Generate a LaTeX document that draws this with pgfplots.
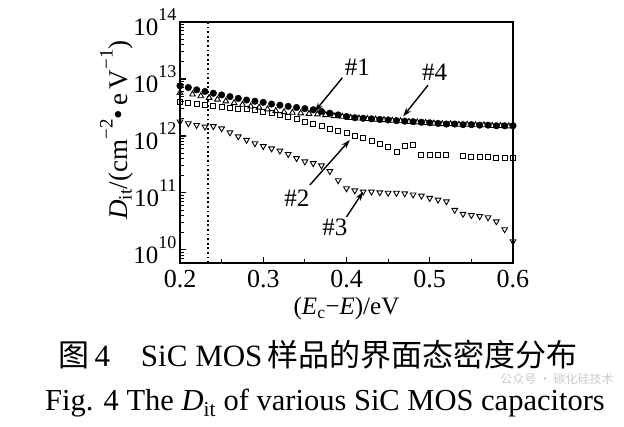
\documentclass[border=0pt]{standalone}
\usepackage{fontspec}
\setmainfont{Liberation Serif}
\newfontfamily\cjk{Noto Sans CJK SC}
\usepackage{pgfplots}
\pgfplotsset{compat=1.18}
\usetikzlibrary{arrows.meta}
\newcommand\tp[1]{10\raisebox{0.62em}{\fontsize{18}{18}\selectfont #1}}
\begin{document}
\begin{tikzpicture}
\useasboundingbox (0,0) rectangle (624pt,426pt);
\begin{axis}[
  at={(180pt,163pt)}, anchor=south west,
  scale only axis, width=333pt, height=241pt,
  xmin=0.2, xmax=0.6, ymode=log, ymin=5.9e9, ymax=1e14,
  axis line style={line width=1.7pt},
  tick align=inside, xtick pos=bottom, ytick pos=left,
  xtick={0.2,0.3,0.4,0.5,0.6}, minor x tick num=1,
  ytick={1e10,1e11,1e12,1e13,1e14},
  minor ytick={7e9,8e9,9e9,2e10,3e10,4e10,5e10,6e10,7e10,8e10,9e10,2e11,3e11,4e11,5e11,6e11,7e11,8e11,9e11,2e12,3e12,4e12,5e12,6e12,7e12,8e12,9e12,2e13,3e13,4e13,5e13,6e13,7e13,8e13,9e13},
  yticklabels={\tp{10},\tp{11},\tp{12},\tp{13},\tp{14}},
  major tick length=6pt, minor tick length=3.5pt,
  every tick/.style={line width=1.1pt, black},
  xticklabel style={font=\fontsize{26}{28}\selectfont, yshift=-4pt, /pgf/number format/.cd, fixed, fixed zerofill, precision=1, assume math mode=true},
  yticklabel style={font=\fontsize{25}{27}\selectfont},
  xlabel={(\textit{E}\textsubscript{c}−\textit{E})/eV},
  ylabel={\textit{D}\textsubscript{it}/(cm\raisebox{0.55em}{\fontsize{19}{19}\selectfont −2}•\,e\,V\raisebox{0.55em}{\fontsize{19}{19}\selectfont −1})},
  xlabel style={font=\fontsize{25}{27}\selectfont, at={(axis description cs:0.5,-0.19)}, anchor=center},
  ylabel style={font=\fontsize{27}{29}\selectfont, at={(axis description cs:-0.19,0.552)}, anchor=center},
  clip=false,
]
% dotted reference line
\addplot[black, line width=2.2pt, dash pattern=on 1.8pt off 2.8pt] coordinates {(0.234,5.9e9) (0.234,1e14)};
% #2 open squares
\addplot[only marks, mark=square, mark size=2.5pt, mark options={line width=0.9pt, black}] coordinates {
(0.20,3.98e12)(0.21,3.80e12)(0.22,3.63e12)(0.23,3.55e12)(0.24,3.39e12)(0.25,3.24e12)(0.26,3.16e12)(0.27,3.02e12)(0.28,2.95e12)(0.29,2.82e12)
(0.30,2.69e12)(0.31,2.51e12)(0.32,2.34e12)(0.33,2.14e12)(0.34,1.95e12)(0.35,1.78e12)(0.36,1.62e12)(0.37,1.48e12)(0.38,1.35e12)(0.39,1.23e12)
(0.40,1.12e12)(0.41,1.00e12)(0.42,9.12e11)(0.43,8.13e11)(0.44,7.24e11)(0.45,6.31e11)(0.46,5.25e11)(0.47,6.61e11)(0.48,6.92e11)(0.49,4.68e11)
(0.50,4.68e11)(0.51,4.68e11)(0.52,4.57e11)(0.54,4.47e11)(0.55,4.37e11)(0.56,4.27e11)(0.57,4.27e11)(0.58,4.17e11)(0.59,4.17e11)(0.60,4.07e11)};
% #3 open down-triangles
\addplot[only marks, mark=triangle, mark size=3.3pt, mark options={line width=0.9pt, black, rotate=180}] coordinates {
(0.20,1.78e12)(0.21,1.66e12)(0.22,1.55e12)(0.23,1.45e12)(0.24,1.48e12)(0.25,1.35e12)(0.26,1.15e12)(0.27,9.77e11)(0.28,8.51e11)(0.29,7.41e11)
(0.30,6.61e11)(0.31,6.03e11)(0.32,5.50e11)(0.33,4.79e11)(0.34,4.07e11)(0.35,3.55e11)(0.36,3.31e11)(0.37,3.02e11)(0.38,2.40e11)(0.39,1.66e11)
(0.40,1.20e11)(0.41,1.10e11)(0.42,1.05e11)(0.43,1.05e11)(0.44,1.02e11)(0.45,1.00e11)(0.46,1.00e11)(0.47,9.77e10)(0.48,9.33e10)(0.49,8.91e10)
(0.50,8.13e10)(0.51,7.59e10)(0.52,7.08e10)(0.53,5.01e10)(0.54,4.27e10)(0.55,4.07e10)(0.56,3.89e10)(0.57,3.72e10)(0.58,3.16e10)(0.59,2.29e10)(0.60,1.41e10)};
% #1 filled circles
\addplot[only marks, mark=*, mark size=3.3pt, mark options={black}] coordinates {
(0.20,7.59e12)(0.21,7.08e12)(0.22,6.46e12)(0.23,6.03e12)(0.24,5.62e12)(0.25,5.25e12)(0.26,4.90e12)(0.27,4.57e12)(0.28,4.27e12)(0.29,4.07e12)
(0.30,3.89e12)(0.31,3.63e12)(0.32,3.47e12)(0.33,3.31e12)(0.34,3.16e12)(0.35,3.02e12)(0.36,2.88e12)(0.37,2.69e12)(0.38,2.51e12)(0.39,2.34e12)
(0.40,2.19e12)(0.41,2.09e12)(0.42,2.04e12)(0.43,2.00e12)(0.44,1.95e12)(0.45,1.91e12)(0.46,1.86e12)(0.47,1.82e12)(0.48,1.78e12)(0.49,1.74e12)
(0.50,1.70e12)(0.51,1.66e12)(0.52,1.62e12)(0.53,1.62e12)(0.54,1.58e12)(0.55,1.58e12)(0.56,1.55e12)(0.57,1.55e12)(0.58,1.51e12)(0.59,1.51e12)(0.60,1.51e12)};
% #4 open up-triangles
\addplot[only marks, mark=triangle, mark size=3.3pt, mark options={line width=0.9pt, black, fill=white}] coordinates {
(0.200,5.75e12)(0.215,5.37e12)(0.225,5.01e12)(0.235,4.68e12)(0.245,4.37e12)(0.255,4.07e12)(0.265,3.80e12)(0.275,3.55e12)(0.285,3.31e12)(0.295,3.16e12)
(0.305,2.95e12)(0.315,2.75e12)(0.325,2.63e12)(0.335,2.57e12)(0.345,2.51e12)(0.355,2.45e12)(0.365,2.40e12)(0.375,2.34e12)(0.385,2.24e12)(0.395,2.19e12)
(0.405,2.09e12)(0.415,2.04e12)(0.425,2.00e12)(0.435,1.95e12)(0.445,1.91e12)(0.455,1.86e12)(0.465,1.82e12)(0.475,1.78e12)(0.485,1.74e12)(0.495,1.70e12)
(0.505,1.66e12)(0.515,1.62e12)(0.525,1.62e12)(0.535,1.58e12)(0.545,1.58e12)(0.555,1.55e12)(0.565,1.55e12)(0.575,1.51e12)(0.585,1.51e12)(0.595,1.48e12)};
% annotations
\tikzset{lbl/.style={font=\fontsize{25}{27}\selectfont, inner sep=0pt}, arr/.style={-{Stealth[length=9pt,width=6pt]}, line width=1.4pt}}
\node[lbl] at (axis cs:0.413,1.62e13) {\#1};
\draw[arr] (axis cs:0.395,1.05e13) -- (axis cs:0.362,2.7e12);
\node[lbl] at (axis cs:0.506,1.32e13) {\#4};
\draw[arr] (axis cs:0.498,7.8e12) -- (axis cs:0.468,2.2e12);
\node[lbl] at (axis cs:0.3405,8.1e10) {\#2};
\draw[arr] (axis cs:0.356,1.38e11) -- (axis cs:0.404,8.5e11);
\node[lbl] at (axis cs:0.386,2.45e10) {\#3};
\draw[arr] (axis cs:0.40,3.8e10) -- (axis cs:0.42,1.05e11);
\end{axis}
\node[font=\fontsize{31}{33}\selectfont] at (318pt,71pt) {{\cjk 图}\,4\hspace{1em}SiC MOS\,{\cjk 样品的界面态密度分布}};
\node[font=\fontsize{30.5}{32}\selectfont] at (325pt,23pt) {Fig. 4 The \textit{D}\textsubscript{it} of various SiC MOS capacitors};
\node[font=\fontsize{12}{13}\selectfont, text=black!20, inner sep=0pt] at (557pt,47pt) {{\cjk 公众号 · 碳化硅技术}};
\end{tikzpicture}
\end{document}
